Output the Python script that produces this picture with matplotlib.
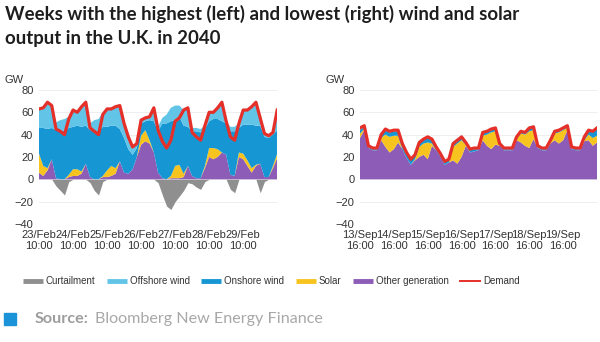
import numpy as np
import matplotlib.pyplot as plt
from matplotlib.lines import Line2D

# 3-hourly readings, week of 23 Feb 10:00 (left) and 13 Sep 16:00 (right), GW
feb_demand = [63, 64, 69, 66, 45, 43, 40, 54, 62, 60, 65, 69, 46, 43, 40, 58, 63, 63, 65, 66,
              50, 38, 29, 32, 53, 55, 56, 64, 44, 34, 28, 35, 52, 55, 62, 64, 42, 38, 35, 48,
              60, 60, 64, 69, 52, 38, 35, 50, 62, 62, 65, 69, 55, 41, 39, 42, 62]
feb_curtail = [0, 0, 0, 0, -6, -10, -14, -2, 0, 0, 0, 0, -3, -10, -14, -2, 0, 0, 0, 0,
               0, 0, 0, 0, 0, 0, 0, 0, -3, -14, -24, -27, -20, -15, -10, -3, -4, -7, -9, -2,
               0, 0, 0, 0, 0, -9, -12, 0, 0, 0, 0, 0, -12, -2, 0, 0, 0]
feb_other = [6, 3, 8, 18, 1, 0, 0, 2, 3, 3, 5, 14, 2, 0, 0, 2, 2, 3, 5, 16,
             6, 5, 9, 20, 31, 34, 32, 24, 6, 1, 0, 1, 1, 1, 2, 12, 3, 1, 1, 10,
             20, 18, 20, 24, 22, 4, 3, 20, 18, 12, 6, 12, 14, 2, 2, 10, 19]
feb_solar = [17, 9, 2, 0, 0, 0, 0, 2, 6, 6, 2, 0, 0, 0, 0, 1, 6, 9, 5, 0,
             0, 0, 0, 0, 8, 10, 3, 0, 0, 0, 0, 2, 11, 12, 3, 0, 0, 0, 0, 2,
             8, 10, 7, 0, 0, 0, 0, 4, 5, 5, 4, 1, 0, 0, 0, 2, 4]
feb_onshore = [23, 34, 35, 28, 43, 44, 43, 42, 38, 39, 40, 34, 42, 44, 43, 44, 39, 36, 38, 29,
               31, 22, 13, 8, 11, 8, 18, 28, 37, 49, 50, 49, 41, 43, 43, 35, 40, 42, 41, 33,
               24, 26, 27, 28, 28, 39, 40, 22, 26, 32, 39, 35, 34, 36, 35, 28, 21]
feb_offshore = [17, 18, 24, 20, 7, 9, 11, 10, 15, 12, 18, 21, 6, 9, 11, 13, 16, 15, 17, 21,
                13, 11, 7, 4, 3, 3, 3, 12, 4, 5, 8, 12, 13, 10, 14, 17, 3, 3, 3, 3,
                8, 6, 10, 17, 2, 4, 4, 4, 13, 13, 16, 21, 7, 4, 2, 2, 18]

sep_demand = [46, 48, 30, 28, 28, 40, 45, 43, 44, 44, 32, 24, 18, 22, 33, 36, 38, 36, 29, 23,
              16, 18, 32, 35, 38, 33, 27, 28, 28, 42, 43, 45, 46, 32, 28, 28, 28, 38, 43, 42,
              46, 47, 30, 28, 28, 35, 43, 44, 46, 48, 29, 28, 28, 38, 44, 43, 46]
sep_curtail = [0] * 57
sep_other = [37, 44, 28, 26, 26, 35, 29, 24, 27, 33, 27, 19, 13, 17, 20, 22, 18, 30, 26, 20,
             13, 15, 17, 14, 20, 30, 24, 25, 26, 35, 30, 27, 31, 30, 26, 26, 26, 35, 33, 30,
             28, 36, 28, 26, 26, 32, 35, 32, 35, 44, 27, 26, 26, 34, 35, 30, 33]
sep_solar = [4, 1, 0, 0, 0, 2, 11, 14, 12, 6, 0, 0, 0, 1, 9, 10, 15, 2, 0, 0,
             0, 0, 12, 18, 15, 1, 0, 0, 0, 4, 10, 15, 12, 0, 0, 0, 0, 1, 8, 10,
             15, 8, 0, 0, 0, 1, 6, 10, 9, 2, 0, 0, 0, 1, 5, 7, 6]
sep_onshore = [3, 2, 1, 1, 1, 2, 4, 4, 4, 4, 4, 4, 4, 3, 3, 3, 4, 3, 2, 2,
               2, 2, 2, 2, 2, 1, 2, 2, 1, 2, 2, 2, 2, 1, 1, 1, 1, 1, 1, 1,
               2, 2, 1, 1, 1, 1, 1, 1, 1, 1, 1, 1, 1, 2, 3, 5, 6]
sep_offshore = [2, 1, 1, 1, 1, 1, 1, 1, 1, 1, 1, 1, 1, 1, 1, 1, 1, 1, 1, 1,
                1, 1, 1, 1, 1, 1, 1, 1, 1, 1, 1, 1, 1, 1, 1, 1, 1, 1, 1, 1,
                1, 1, 1, 1, 1, 1, 1, 1, 1, 1, 1, 1, 1, 1, 1, 1, 1]

feb_ticks = ['23/Feb\n10:00', '24/Feb\n10:00', '25/Feb\n10:00', '26/Feb\n10:00',
             '27/Feb\n10:00', '28/Feb\n10:00', '29/Feb\n10:00']
sep_ticks = ['13/Sep\n16:00', '14/Sep\n16:00', '15/Sep\n16:00', '16/Sep\n16:00',
             '17/Sep\n16:00', '18/Sep\n16:00', '19/Sep\n16:00']

series_names = ['Curtailment', 'Offshore wind', 'Onshore wind', 'Solar', 'Other generation', 'Demand']
col = {'Curtailment': '#8f8f8f', 'Offshore wind': '#62c5e8', 'Onshore wind': '#1796d4',
       'Solar': '#f7c41f', 'Other generation': '#8c5cb6', 'Demand': '#e5302a'}

hours = np.arange(0, 169, 3)
plt.rcParams['font.family'] = ['Liberation Sans', 'DejaVu Sans']

fig = plt.figure(figsize=(6, 3.42), dpi=100)
ax1 = fig.add_axes([0.065, 0.345, 0.397, 0.392])
ax2 = fig.add_axes([0.600, 0.345, 0.395, 0.392])

panels = [(ax1, feb_demand, feb_curtail, feb_other, feb_solar, feb_onshore, feb_offshore, feb_ticks),
          (ax2, sep_demand, sep_curtail, sep_other, sep_solar, sep_onshore, sep_offshore, sep_ticks)]

for ax, dem, cur, oth, sol, ons, off, ticks in panels:
    ax.stackplot(hours, oth, sol, ons, off,
                 colors=[col['Other generation'], col['Solar'], col['Onshore wind'], col['Offshore wind']],
                 linewidth=0)
    ax.fill_between(hours, cur, 0, color=col['Curtailment'], linewidth=0)
    ax.plot(hours, dem, color=col['Demand'], lw=2.3, solid_joinstyle='round')
    ax.set_xlim(0, 168)
    ax.set_ylim(-40, 80)
    ax.set_yticks([-40, -20, 0, 20, 40, 60, 80])
    ax.set_xticks(np.arange(0, 145, 24))
    ax.set_xticklabels(ticks, fontsize=8, color='#333333', linespacing=1.15)
    ax.tick_params(length=0, labelsize=8, colors='#333333', pad=4)
    ax.grid(axis='y', color='#eeeeee', lw=0.7)
    ax.set_axisbelow(True)
    for s in ax.spines.values():
        s.set_visible(False)
    ax.text(-0.145, 1.035, 'GW', transform=ax.transAxes, fontsize=8, color='#333333', va='bottom')

handles = []
for name in series_names:
    if name == 'Demand':
        handles.append(Line2D([], [], color=col[name], lw=1.4))
    else:
        handles.append(Line2D([], [], color=col[name], lw=3.5, solid_capstyle='butt'))
fig.legend(handles, series_names, loc='center', bbox_to_anchor=(0.452, 0.178), ncol=6,
           frameon=False, fontsize=7, handlelength=2.05, handletextpad=0.3, columnspacing=1.2,
           labelcolor='#333333')

fig.text(0.008, 0.985, 'Weeks with the highest (left) and lowest (right) wind and solar\noutput in the U.K. in 2040',
         ha='left', va='top', fontsize=13.4, fontweight='bold', family='Lato', color='#1e1e1e',
         linespacing=1.5)

fig.patches.append(plt.Rectangle((0.006, 0.05), 0.02, 0.035, transform=fig.transFigure,
                                 color='#1a93d8'))
fig.text(0.058, 0.067, 'Source:', ha='left', va='center', fontsize=11.6, fontweight='bold',
         family='Lato', color='#9d9d9d')
fig.text(0.158, 0.067, 'Bloomberg New Energy Finance', ha='left', va='center', fontsize=11.6,
         family='Lato', color='#a8a8a8')

fig.savefig('out.png', dpi=100, facecolor='white')
